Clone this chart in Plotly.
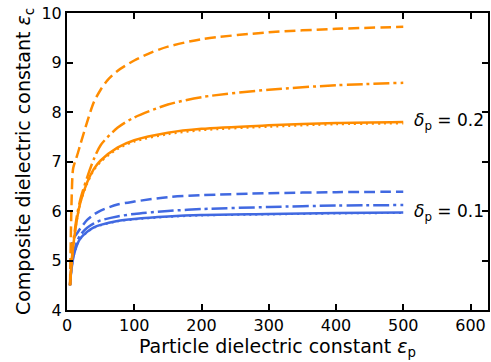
import plotly.graph_objects as go

# Particle dielectric constant (x)
eps_p = [4.5, 6, 8, 10, 15, 20, 30, 40, 50, 75, 100, 150, 200, 300, 400, 500]

# delta_p = 0.2 (orange)
o_solid  = [4.5, 4.80, 5.12, 5.38, 5.85, 6.18, 6.58, 6.85, 7.02, 7.28, 7.43, 7.58, 7.66, 7.73, 7.78, 7.80]
o_dotted = [4.5, 4.79, 5.10, 5.36, 5.83, 6.16, 6.55, 6.82, 6.99, 7.25, 7.40, 7.55, 7.63, 7.70, 7.75, 7.77]
o_dashdot = [4.5, 4.82, 5.16, 5.44, 5.92, 6.24, 6.68, 7.05, 7.33, 7.68, 7.89, 8.15, 8.30, 8.45, 8.54, 8.59]
o_dashed_x = [4.5, 5.5, 7, 9, 12, 15, 20, 30, 40, 50, 60, 75, 100, 125, 150, 200, 300, 400, 500]
o_dashed = [4.5, 5.3, 6.3, 6.85, 7.0, 7.12, 7.35, 7.8, 8.2, 8.45, 8.64, 8.83, 9.04, 9.2, 9.32, 9.47, 9.61, 9.68, 9.72]

# delta_p = 0.1 (blue)
b_solid  = [4.5, 4.75, 4.95, 5.10, 5.32, 5.45, 5.58, 5.67, 5.72, 5.80, 5.84, 5.89, 5.92, 5.94, 5.96, 5.97]
b_dotted = [4.5, 4.74, 4.94, 5.09, 5.31, 5.44, 5.57, 5.66, 5.71, 5.79, 5.83, 5.88, 5.91, 5.93, 5.95, 5.96]
b_dashdot = [4.5, 4.77, 4.98, 5.15, 5.38, 5.52, 5.66, 5.75, 5.81, 5.89, 5.94, 6.00, 6.04, 6.08, 6.11, 6.12]
b_dashed_x = [4.5, 6, 8, 10, 15, 20, 30, 40, 50, 75, 100, 150, 200, 300, 400, 500]
b_dashed = [4.5, 4.95, 5.38, 5.45, 5.55, 5.65, 5.82, 5.93, 6.01, 6.13, 6.19, 6.28, 6.32, 6.36, 6.38, 6.39]

labels = ["<i>δ</i><sub>p</sub> = 0.2", "<i>δ</i><sub>p</sub> = 0.1"]
label_y = [7.80, 5.97]

ORANGE = "#FF8C00"
BLUE = "#4169E1"
FONT = "DejaVu Sans"

fig = go.Figure()

def add(x, y, color, dash, width):
    fig.add_trace(go.Scatter(x=x, y=y, mode="lines",
                             line=dict(color=color, dash=dash, width=width, shape="spline", smoothing=0.8),
                             showlegend=False, hoverinfo="skip"))

add(eps_p, b_dotted, BLUE, "2px,4px", 2)
add(eps_p, b_solid, BLUE, "solid", 2.5)
add(eps_p, b_dashdot, BLUE, "16px,4px,3px,4px", 2.5)
add(b_dashed_x, b_dashed, BLUE, "11px,5px", 2.5)
add(eps_p, o_dotted, ORANGE, "2px,4px", 2)
add(eps_p, o_solid, ORANGE, "solid", 2.5)
add(eps_p, o_dashdot, ORANGE, "16px,4px,3px,4px", 2.5)
add(o_dashed_x, o_dashed, ORANGE, "11px,5px", 2.5)

for lab, yv in zip(labels, label_y):
    fig.add_annotation(x=eps_p[-1], y=yv, text=lab, showarrow=False,
                       xanchor="left", yanchor="middle", xshift=9,
                       font=dict(family=FONT, size=17, color="black"))

axis_common = dict(showline=True, linecolor="black", linewidth=2, mirror="ticks",
                   ticks="inside", ticklen=6, tickwidth=1.5, tickcolor="black",
                   showgrid=False, zeroline=False,
                   tickfont=dict(family=FONT, size=16, color="black"))

fig.update_layout(
    width=491, height=362,
    margin=dict(l=67, r=1, t=13, b=52),
    paper_bgcolor="white", plot_bgcolor="white",
    xaxis=dict(range=[0, 626], tickvals=[0, 100, 200, 300, 400, 500, 600],
               title=dict(text="Particle dielectric constant <i>ε</i><sub>p</sub>",
                          font=dict(family=FONT, size=19, color="black"), standoff=4),
               **axis_common),
    yaxis=dict(range=[4, 10], tickvals=[4, 5, 6, 7, 8, 9, 10],
               title=dict(text="Composite dielectric constant <i>ε</i><sub>c</sub>",
                          font=dict(family=FONT, size=19, color="black"), standoff=6),
               **axis_common),
)

fig.write_html("out.html")
